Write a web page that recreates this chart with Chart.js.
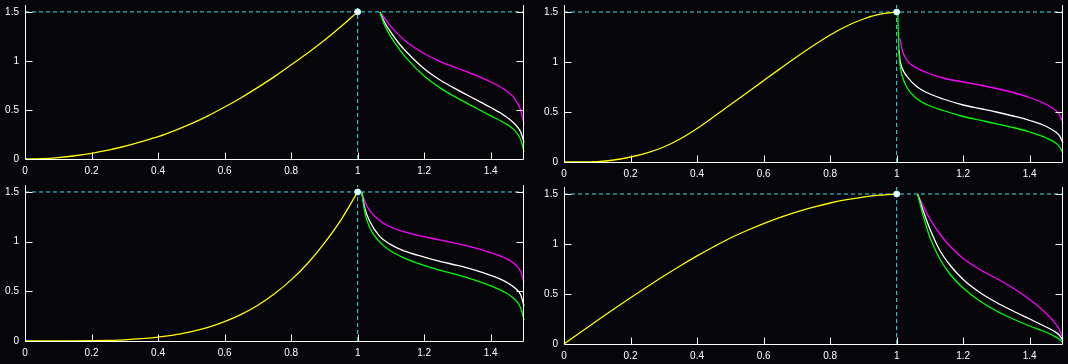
<!DOCTYPE html>
<html>
<head>
<meta charset="utf-8">
<script src="https://cdn.jsdelivr.net/npm/chart.js@4.4.1/dist/chart.umd.min.js"></script>
<style>
  html, body { margin:0; padding:0; background:#05050a; width:1068px; height:364px; overflow:hidden; }
  .panel { position:absolute; }
</style>
</head>
<body>
<div class="panel" id="pTL" style="left:0;top:0"><canvas id="cTL" width="534" height="180"></canvas></div>
<div class="panel" id="pTR" style="left:534px;top:0"><canvas id="cTR" width="534" height="182"></canvas></div>
<div class="panel" id="pBL" style="left:0;top:180px"><canvas id="cBL" width="534" height="184"></canvas></div>
<div class="panel" id="pBR" style="left:534px;top:180px"><canvas id="cBR" width="534" height="184"></canvas></div>
<script>
// ---- tick labels / reference values ----
const xTicks = [0, 0.2, 0.4, 0.6, 0.8, 1, 1.2, 1.4];
const yTicks = [0, 0.5, 1, 1.5];
const xMin = 0, xMax = 1.5, yMin = 0, yMax = 1.57;
const peakX = 1, peakY = 1.5;

// ---- rising (yellow) branch, shared x samples ----
const riseX  = [0,0.05,0.1,0.15,0.2,0.25,0.3,0.35,0.4,0.45,0.5,0.55,0.6,0.65,0.7,0.75,0.8,0.85,0.9,0.95,1];
const riseTL = [0,0.004,0.015,0.033,0.058,0.09,0.13,0.178,0.228,0.29,0.36,0.44,0.53,0.625,0.73,0.84,0.96,1.08,1.21,1.35,1.5];
const riseTR = [0,0,0.004,0.02,0.05,0.092,0.15,0.232,0.335,0.452,0.572,0.693,0.814,0.934,1.052,1.165,1.27,1.36,1.43,1.478,1.5];
const riseBL = [0,0,0.0002,0.001,0.003,0.006,0.012,0.023,0.04,0.062,0.094,0.137,0.195,0.268,0.36,0.475,0.615,0.783,0.985,1.22,1.5];
const riseBR = [0,0.118,0.235,0.35,0.463,0.573,0.68,0.783,0.881,0.973,1.06,1.135,1.204,1.266,1.321,1.369,1.41,1.443,1.469,1.488,1.5];

// ---- falling branches: top-left ----
const tailX_TL   = [1.067,1.08,1.1,1.125,1.15,1.2,1.25,1.3,1.35,1.4,1.44,1.47,1.49,1.5];
const magenta_TL = [1.5,1.44,1.35,1.26,1.185,1.075,0.99,0.925,0.86,0.785,0.71,0.625,0.5,0.355];
const white_TL   = [1.5,1.4,1.29,1.175,1.08,0.92,0.8,0.705,0.615,0.525,0.445,0.365,0.275,0.17];
const green_TL   = [1.5,1.37,1.245,1.12,1.015,0.845,0.72,0.62,0.53,0.44,0.37,0.3,0.2,0.075];

// ---- falling branches: top-right ----
const tailX_TR   = [1.003,1.007,1.01,1.015,1.03,1.06,1.09,1.14,1.2,1.25,1.3,1.35,1.4,1.45,1.48,1.49,1.5];
const magenta_TR = [null,null,1.24,1.14,1.02,0.94,0.895,0.84,0.8,0.77,0.735,0.695,0.645,0.575,0.51,0.47,0.39];
const white_TR   = [null,1.12,1.02,0.95,0.86,0.755,0.695,0.63,0.57,0.535,0.5,0.46,0.415,0.355,0.295,0.26,0.19];
const green_TR   = [1.5,1.1,0.97,0.88,0.75,0.635,0.575,0.515,0.455,0.418,0.382,0.345,0.3,0.24,0.185,0.15,0.09];

// ---- falling branches: bottom-left ----
const tailX_BL   = [1.012,1.022,1.037,1.067,1.097,1.137,1.2,1.25,1.3,1.35,1.4,1.44,1.47,1.49,1.5];
const magenta_BL = [1.5,1.4,1.31,1.21,1.15,1.1,1.05,1.015,0.98,0.94,0.89,0.84,0.78,0.7,0.59];
const white_BL   = [1.5,1.33,1.2,1.05,0.975,0.91,0.845,0.8,0.76,0.715,0.66,0.605,0.54,0.465,0.35];
const green_BL   = [1.5,1.29,1.135,0.995,0.91,0.84,0.76,0.71,0.665,0.615,0.555,0.495,0.425,0.335,0.21];

// ---- falling branches: bottom-right ----
const tailX_BR   = [1.063,1.08,1.1,1.13,1.16,1.2,1.25,1.3,1.35,1.4,1.44,1.47,1.49,1.5];
const magenta_BR = [1.5,1.38,1.25,1.1,0.98,0.855,0.745,0.655,0.56,0.445,0.335,0.235,0.14,0.05];
const white_BR   = [1.5,1.33,1.15,0.935,0.79,0.645,0.515,0.415,0.33,0.25,0.185,0.135,0.085,0.03];
const green_BR   = [1.5,1.28,1.065,0.85,0.7,0.56,0.43,0.33,0.25,0.18,0.13,0.085,0.045,0.01];

// ---- styling ----
const COL = { yellow:'#ffff00', magenta:'#ff00ff', white:'#ffffff', green:'#00ff00', dash:'#40e0e8', axis:'#ffffff', text:'#ffffff' };
const FONT = { family:'"Liberation Sans", Arial, sans-serif', size:10 };

function pts(xs, ys){
  const out = [];
  xs.forEach((x,i)=>{ if (ys[i] !== null && ys[i] !== undefined) out.push({x:x, y:ys[i]}); });
  return out;
}

function lineDS(data, color, order){
  return { data:data, showLine:true, borderColor:color, borderWidth:1.3, pointRadius:0,
           cubicInterpolationMode:'monotone', fill:false, order:order, clip:3 };
}

const axesPlugin = {
  id:'axesPlugin',
  afterDatasetsDraw(chart){
    const ctx = chart.ctx, a = chart.chartArea, xs = chart.scales.x, ys = chart.scales.y;
    const L = Math.round(a.left)+0.5, R = Math.round(a.right)-0.5, B = Math.round(a.bottom)+0.5, T = Math.round(a.top);
    ctx.save();
    ctx.strokeStyle = COL.axis; ctx.lineWidth = 1;
    ctx.beginPath();
    ctx.moveTo(L, T); ctx.lineTo(L, B);
    ctx.moveTo(R, T); ctx.lineTo(R, B);
    ctx.moveTo(L, B); ctx.lineTo(R, B);
    yTicks.forEach(v=>{
      if (v === 0) return;
      const y = Math.round(ys.getPixelForValue(v))+0.5;
      ctx.moveTo(L, y); ctx.lineTo(L+7, y);
      ctx.moveTo(R-7, y); ctx.lineTo(R, y);
    });
    xTicks.forEach(v=>{
      if (v === 0) return;
      const x = Math.round(xs.getPixelForValue(v))+0.5;
      ctx.moveTo(x, B); ctx.lineTo(x, B-7);
    });
    ctx.stroke();
    ctx.restore();
  }
};

function makeChart(id, rise, tailX, mag, wht, grn, cfg){
  const datasets = [
    { data:[{x:xMin,y:peakY},{x:xMax,y:peakY}], showLine:true, borderColor:COL.dash, borderWidth:1, borderDash:[4,3], pointRadius:0, order:10 },
    { data:[{x:peakX,y:yMin},{x:peakX,y:yMax}], showLine:true, borderColor:COL.dash, borderWidth:1, borderDash:[4,3], pointRadius:0, order:10 },
    lineDS(pts(riseX, rise), COL.yellow, 4),
    lineDS(pts(tailX, mag), COL.magenta, 3),
    lineDS(pts(tailX, wht), COL.white, 2),
    lineDS(pts(tailX, grn), COL.green, 1),
    { data:[{x:peakX,y:peakY}], showLine:false, pointRadius:3, pointBackgroundColor:'#f4ffff', pointBorderColor:'#a0ffff', pointBorderWidth:1, order:0 }
  ];
  return new Chart(document.getElementById(id), {
    type:'scatter',
    data:{ datasets:datasets },
    options:{
      responsive:false, animation:false, events:[],
      layout:{ padding:{ left:0, right:cfg.padR, top:cfg.padT, bottom:0 } },
      plugins:{ legend:{display:false}, tooltip:{enabled:false} },
      scales:{
        x:{ type:'linear', min:xMin, max:xMax,
            border:{display:false}, grid:{display:false, drawTicks:false},
            ticks:{ color:COL.text, font:FONT, padding:6, autoSkip:false, maxRotation:0, callback:(v)=>String(v) },
            afterBuildTicks:(s)=>{ s.ticks = xTicks.map(v=>({value:v})); },
            afterFit:(s)=>{ s.height = cfg.xH; s.paddingLeft = 0; s.paddingRight = 0; } },
        y:{ type:'linear', min:yMin, max:yMax,
            border:{display:false}, grid:{display:false, drawTicks:false},
            ticks:{ color:COL.text, font:FONT, padding:6, autoSkip:false, callback:(v)=>String(v) },
            afterBuildTicks:(s)=>{ s.ticks = yTicks.map(v=>({value:v})); },
            afterFit:(s)=>{ s.width = cfg.yW; s.paddingTop = 0; s.paddingBottom = 0; } }
      }
    },
    plugins:[axesPlugin]
  });
}

makeChart('cTL', riseTL, tailX_TL, magenta_TL, white_TL, green_TL, { yW:25, xH:21, padR:10, padT:2 });
makeChart('cTR', riseTR, tailX_TR, magenta_TR, white_TR, green_TR, { yW:30, xH:20, padR:5,  padT:5 });
makeChart('cBL', riseBL, tailX_BL, magenta_BL, white_BL, green_BL, { yW:25, xH:23, padR:10, padT:4 });
makeChart('cBR', riseBR, tailX_BR, magenta_BR, white_BR, green_BR, { yW:30, xH:20, padR:5,  padT:7 });
</script>
</body>
</html>
